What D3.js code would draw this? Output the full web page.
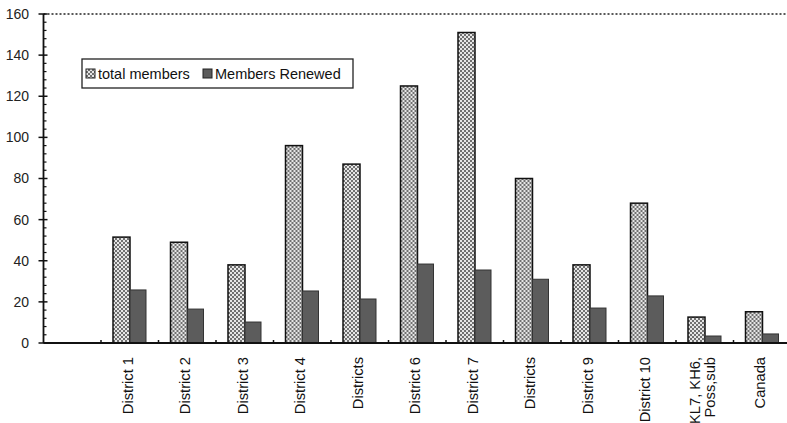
<!DOCTYPE html>
<html>
<head>
<meta charset="utf-8">
<script src="https://cdn.jsdelivr.net/npm/d3@7"></script>
<style>
  body { margin: 0; background: #fff; }
  svg { display: block; font-family: "Liberation Sans", Arial, sans-serif; }
</style>
</head>
<body>
<script>
// data
var categories = ["", "District 1", "District 2", "District 3", "District 4", "Districts",
    "District 6", "District 7", "Districts", "District 9", "District 10", "KL7, KH6,|Poss,sub", "Canada"];
var totalMembers = [null, 51.5, 49, 38, 96, 87, 125, 151, 80, 38, 68, 12.6, 15.2];
var membersRenewed = [null, 25.8, 16.5, 10.2, 25.3, 21.4, 38.4, 35.5, 31, 17, 22.9, 3.4, 4.4];
var seriesNames = ["total members", "Members Renewed"];
var yTicks = [0, 20, 40, 60, 80, 100, 120, 140, 160];

var W = 787, H = 423;
var plotLeft = 43.5, plotBottom = 343, plotTop = 14;

var svg = d3.select("body").append("svg")
    .attr("width", W)
    .attr("height", H);

var defs = svg.append("defs");
var pat = defs.append("pattern")
    .attr("id", "stipple")
    .attr("patternUnits", "userSpaceOnUse")
    .attr("width", 4)
    .attr("height", 4);
pat.append("rect").attr("width", 4).attr("height", 4).attr("fill", "#e6e6e6");
pat.append("rect").attr("x", 0).attr("y", 0).attr("width", 2).attr("height", 2).attr("fill", "#707070");
pat.append("rect").attr("x", 2).attr("y", 2).attr("width", 2).attr("height", 2).attr("fill", "#707070");

var x = d3.scaleBand()
    .domain(d3.range(categories.length))
    .range([plotLeft, plotLeft + 57.5 * categories.length])
    .paddingInner(0);

var x1 = d3.scaleBand()
    .domain([0, 1])
    .range([12, 46]);

var y = d3.scaleLinear()
    .domain([0, 160])
    .range([plotBottom, plotTop]);

// dotted top border
svg.append("line")
    .attr("x1", plotLeft).attr("x2", W)
    .attr("y1", y(160)).attr("y2", y(160))
    .attr("stroke", "#222")
    .attr("stroke-width", 1.6)
    .attr("stroke-dasharray", "2,2");

// bars
var groups = svg.selectAll(".grp")
    .data(categories.map(function (c, i) { return i; }))
    .enter().append("g")
    .attr("transform", function (i) { return "translate(" + x(i) + ",0)"; });

groups.filter(function (i) { return totalMembers[i] != null; })
    .append("rect")
    .attr("x", x1(0))
    .attr("width", x1.bandwidth())
    .attr("y", function (i) { return y(totalMembers[i]); })
    .attr("height", function (i) { return plotBottom - y(totalMembers[i]); })
    .attr("fill", "url(#stipple)")
    .attr("stroke", "#111")
    .attr("stroke-width", 1.5);

groups.filter(function (i) { return membersRenewed[i] != null; })
    .append("rect")
    .attr("x", x1(1))
    .attr("width", x1.bandwidth() - 1)
    .attr("y", function (i) { return y(membersRenewed[i]); })
    .attr("height", function (i) { return plotBottom - y(membersRenewed[i]); })
    .attr("fill", "#5c5c5c")
    .attr("stroke", "#333")
    .attr("stroke-width", 1);

// y axis
var yAxisG = svg.append("g").attr("stroke", "#111");
yAxisG.append("line")
    .attr("x1", plotLeft).attr("x2", plotLeft)
    .attr("y1", y(160)).attr("y2", plotBottom)
    .attr("stroke-width", 1.8);
yAxisG.selectAll(".maj")
    .data(yTicks)
    .enter().append("line")
    .attr("x1", plotLeft - 5).attr("x2", plotLeft + 4)
    .attr("y1", function (d) { return y(d); })
    .attr("y2", function (d) { return y(d); })
    .attr("stroke-width", 1.5);
yAxisG.selectAll(".min")
    .data(d3.range(0, 160, 4).filter(function (d) { return d % 20 !== 0; }))
    .enter().append("line")
    .attr("x1", plotLeft).attr("x2", plotLeft + 3)
    .attr("y1", function (d) { return y(d); })
    .attr("y2", function (d) { return y(d); })
    .attr("stroke-width", 1.2);

svg.selectAll(".ylab")
    .data(yTicks)
    .enter().append("text")
    .attr("x", 29)
    .attr("y", function (d) { return Math.max(y(d), 8); })
    .attr("dy", "0.35em")
    .attr("text-anchor", "end")
    .attr("font-size", 14)
    .attr("fill", "#222")
    .text(function (d) { return d; });

// x axis
svg.append("line")
    .attr("x1", plotLeft).attr("x2", W)
    .attr("y1", plotBottom).attr("y2", plotBottom)
    .attr("stroke", "#111")
    .attr("stroke-width", 1.8);
svg.selectAll(".xtick")
    .data(d3.range(1, categories.length))
    .enter().append("line")
    .attr("x1", function (i) { return x(i); })
    .attr("x2", function (i) { return x(i); })
    .attr("y1", plotBottom).attr("y2", plotBottom - 3)
    .attr("stroke", "#111")
    .attr("stroke-width", 1.5);

var xl = svg.selectAll(".xlab")
    .data(d3.range(1, categories.length))
    .enter().append("text")
    .attr("transform", function (i) {
        return "translate(" + (x(i) + x.bandwidth() / 2 - 2) + "," + (plotBottom + 14) + ") rotate(-90)";
    })
    .attr("text-anchor", "end")
    .attr("font-size", 14.7)
    .attr("fill", "#111");
xl.each(function (i) {
    var lines = categories[i].split("|");
    var t = d3.select(this);
    lines.forEach(function (s, k) {
        t.append("tspan")
            .attr("x", 0)
            .attr("y", (k - (lines.length - 1) / 2) * 15)
            .attr("dy", "0.35em")
            .text(s);
    });
});

// legend
var lg = svg.append("g").attr("transform", "translate(82,59)");
lg.append("rect")
    .attr("width", 271).attr("height", 29)
    .attr("fill", "#fff")
    .attr("stroke", "#222")
    .attr("stroke-width", 1.3);
var legendX = [4, 121];
seriesNames.forEach(function (name, k) {
    lg.append("rect")
        .attr("x", legendX[k]).attr("y", 10)
        .attr("width", 9).attr("height", 9)
        .attr("fill", k === 0 ? "url(#stipple)" : "#5c5c5c")
        .attr("stroke", "#222")
        .attr("stroke-width", 1);
    lg.append("text")
        .attr("x", legendX[k] + 12)
        .attr("y", 20)
        .attr("font-size", 14.5)
        .attr("fill", "#111")
        .text(name);
});
</script>
</body>
</html>
